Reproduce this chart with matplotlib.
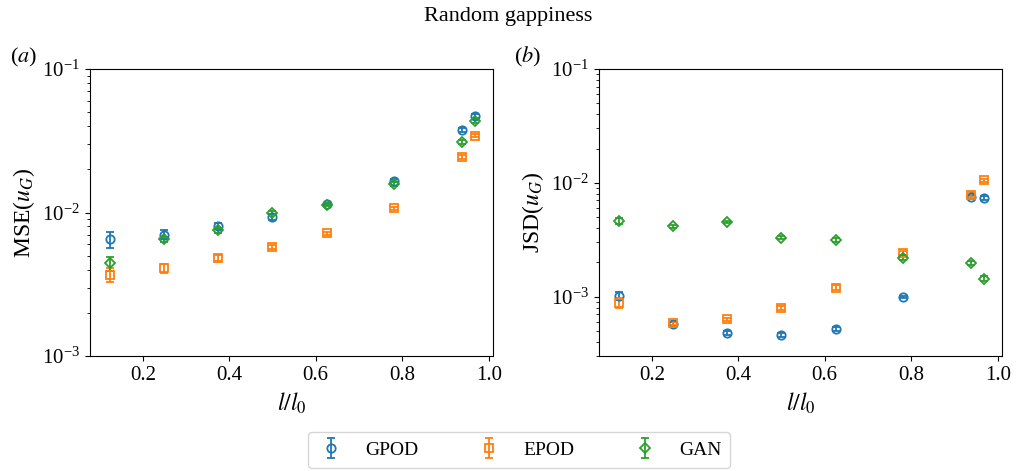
import numpy as np
import matplotlib.pyplot as plt

plt.rcParams['font.family'] = 'serif'
plt.rcParams['font.serif'] = ['Liberation Serif', 'DejaVu Serif']
plt.rcParams['mathtext.fontset'] = 'stix'

# gap size l/l0
ratio = [0.125, 0.25, 0.375, 0.5, 0.625, 0.78125, 0.9375, 0.96875]

# MSE(u_G)
mse_gpod = [6.5e-3, 7.0e-3, 8.1e-3, 9.3e-3, 1.14e-2, 1.66e-2, 3.77e-2, 4.72e-2]
mse_gpod_err = [8e-4, 5e-4, 4e-4, 4e-4, 2e-4, 4e-4, 1.2e-3, 1.5e-3]
mse_epod = [3.68e-3, 4.08e-3, 4.82e-3, 5.73e-3, 7.16e-3, 1.07e-2, 2.44e-2, 3.44e-2]
mse_epod_err = [4e-4, 3e-4, 2e-4, 2e-4, 2e-4, 3e-4, 7e-4, 1e-3]
mse_gan = [4.43e-3, 6.5e-3, 7.5e-3, 1.0e-2, 1.13e-2, 1.58e-2, 3.12e-2, 4.35e-2]
mse_gan_err = [5e-4, 3e-4, 3e-4, 3e-4, 2e-4, 4e-4, 1e-3, 1.2e-3]

# JSD(u_G)
jsd_gpod = [1.01e-3, 5.76e-4, 4.76e-4, 4.58e-4, 5.2e-4, 1.0e-3, 7.43e-3, 7.34e-3]
jsd_gpod_err = [8e-5, 2e-5, 2e-5, 2e-5, 2e-5, 2e-5, 3e-4, 3e-4]
jsd_epod = [8.75e-4, 5.8e-4, 6.33e-4, 7.96e-4, 1.2e-3, 2.43e-3, 7.85e-3, 1.05e-2]
jsd_epod_err = [9e-5, 2e-5, 2e-5, 3e-5, 5e-5, 1e-4, 4e-4, 4e-4]
jsd_gan = [4.61e-3, 4.14e-3, 4.55e-3, 3.3e-3, 3.14e-3, 2.2e-3, 1.96e-3, 1.44e-3]
jsd_gan_err = [3e-4, 1e-4, 1e-4, 1e-4, 1e-4, 1e-4, 8e-5, 6e-5]

labels = ['GPOD', 'EPOD', 'GAN']
markers = ['o', 's', 'D']
colors = ['#1f77b4', '#ff7f0e', '#2ca02c']

fig = plt.figure(figsize=(10.16, 4.71), dpi=100)
ax1 = fig.add_axes([90 / 1016, 1 - 356 / 471, 403 / 1016, 287 / 471])
ax2 = fig.add_axes([599 / 1016, 1 - 356 / 471, 403 / 1016, 287 / 471])

panels = [
    (ax1, [mse_gpod, mse_epod, mse_gan], [mse_gpod_err, mse_epod_err, mse_gan_err], 'MSE($u_G$)', (1e-3, 1e-1)),
    (ax2, [jsd_gpod, jsd_epod, jsd_gan], [jsd_gpod_err, jsd_epod_err, jsd_gan_err], 'JSD($u_G$)', (3e-4, 1e-1)),
]

handles = []
for ax, vals, errs, ylab, ylim in panels:
    for v, e, lab, m, c in zip(vals, errs, labels, markers, colors):
        h = ax.errorbar(ratio, v, yerr=e, fmt=m, color=c, mfc='none', ms=6 if m != 'D' else 5,
                        mew=1.3, capsize=3, elinewidth=1.3, label=lab)
        if ax is ax1:
            handles.append(h)
    ax.set_yscale('log')
    ax.set_ylim(*ylim)
    ax.set_xticks([0.2, 0.4, 0.6, 0.8, 1.0])
    ax.set_xlabel('$l/l_0$', fontsize=17)
    ax.set_ylabel(ylab, fontsize=17)
    ax.tick_params(labelsize=15)

ax1.set_xlim(0.078, 1.01)
ax2.set_xlim(0.078, 1.01)

fig.text(10 / 1016, 1 - 57 / 471, '($a$)', fontsize=16, va='center')
fig.text(514 / 1016, 1 - 57 / 471, '($b$)', fontsize=16, va='center')
fig.suptitle('Random gappiness', fontsize=16, y=0.985)

fig.legend(handles, labels, loc='center', bbox_to_anchor=(519 / 1016, 1 - 450 / 471), ncol=3,
           fontsize=14, columnspacing=2.9, handlelength=1.5, handletextpad=1.0,
           borderpad=0.45, frameon=True)

fig.savefig('out.png', dpi=100)
